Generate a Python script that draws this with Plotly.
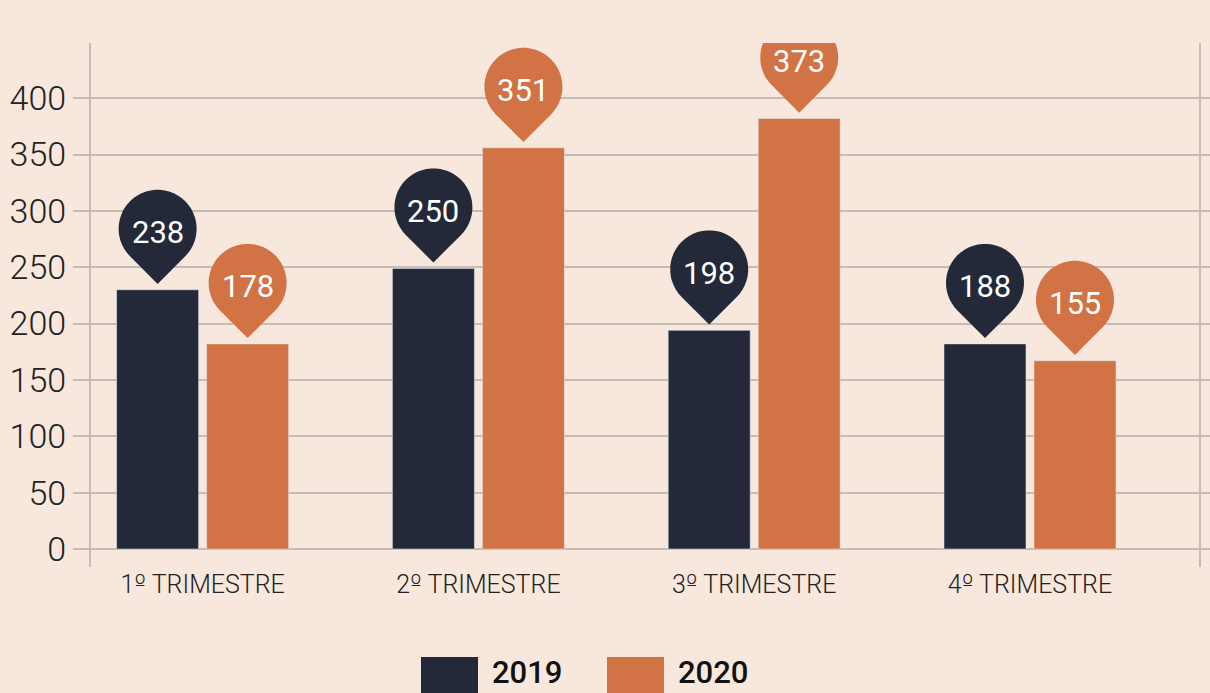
import numpy as np
import plotly.graph_objects as go

# data
quarters = ["1º TRIMESTRE", "2º TRIMESTRE", "3º TRIMESTRE", "4º TRIMESTRE"]
series_names = ["2019", "2020"]
bars_2019 = [230, 249, 194, 182]      # bar heights as drawn
bars_2020 = [182, 356, 382, 167]
labels_2019 = [238, 250, 198, 188]    # numbers printed on the pins
labels_2020 = [178, 351, 373, 155]
y_ticks = [0, 50, 100, 150, 200, 250, 300, 350, 400]

NAVY = "#232938"
ORANGE = "#d27345"
BG = "#f7e7dc"
GRID = "#c7bcb5"
TEXT = "#222222"

W, H = 1210, 693
M_L, M_R, M_T, M_B = 91, 11, 43, 126
PW, PH = W - M_L - M_R, H - M_T - M_B

BARGAP = 0.3474
GROUPGAP = 0.0889
OFFSET = (1 - BARGAP) / 4   # centre of each bar relative to the category


def pin_path(r=39, cy=61):
    """teardrop in pixels, tip at bottom, positive y is up"""
    d = r * np.sqrt(2)
    tip = cy - d
    ang = np.radians(np.linspace(-45, 225, 40))
    pts = [(0, tip)] + [(r * np.cos(a), cy + r * np.sin(a)) for a in ang]
    return "M" + " L".join(f"{x:.2f},{y:.2f}" for x, y in pts) + " Z"


def px_x(x):
    return (x - M_L) / PW


def px_y(y):
    return (H - M_B - y) / PH


fig = go.Figure()
fig.add_trace(go.Bar(x=quarters, y=bars_2019, name=series_names[0], marker_color=NAVY))
fig.add_trace(go.Bar(x=quarters, y=bars_2020, name=series_names[1], marker_color=ORANGE))

PIN = pin_path()
for k, (vals, labs, col) in enumerate([(bars_2019, labels_2019, NAVY),
                                       (bars_2020, labels_2020, ORANGE)]):
    shift = -OFFSET if k == 0 else OFFSET
    for i, (v, lab) in enumerate(zip(vals, labs)):
        fig.add_shape(type="path", path=PIN, xref="x", yref="y",
                      xsizemode="pixel", ysizemode="pixel",
                      xanchor=i + shift, yanchor=v,
                      fillcolor=col, line_width=0, layer="above")
        fig.add_annotation(x=i + shift, y=v, text=str(lab), showarrow=False,
                           yshift=57, xanchor="center", yanchor="middle",
                           font=dict(family="Roboto", size=31, color="white", weight=400))

# hand-drawn legend, large square swatches at the bottom
for name, col, sq_x, tx_x in [(series_names[0], NAVY, 421, 490),
                              (series_names[1], ORANGE, 607, 676)]:
    fig.add_shape(type="rect", xref="paper", yref="paper",
                  x0=px_x(sq_x), x1=px_x(sq_x + 57), y0=px_y(714), y1=px_y(657),
                  fillcolor=col, line_width=0)
    fig.add_annotation(xref="paper", yref="paper", x=px_x(tx_x), y=px_y(672),
                       text=name, showarrow=False, xanchor="left", yanchor="middle",
                       font=dict(family="Roboto", size=31, color="#111111", weight=500))

# ordinal sign with the underlined form
tick_text = [q.replace("º", "<span style='font-family:DejaVu Sans'>º</span>") for q in quarters]

fig.update_layout(
    width=W, height=H,
    margin=dict(l=M_L, r=M_R, t=M_T, b=M_B, pad=0),
    paper_bgcolor=BG, plot_bgcolor=BG,
    barmode="group", bargap=BARGAP, bargroupgap=GROUPGAP,
    showlegend=False,
    font=dict(family="Roboto", color=TEXT),
)
fig.update_xaxes(
    range=[-0.4047, 3.6128], showgrid=False, zeroline=False, showline=False,
    ticks="", tickfont=dict(size=25, weight=300, color=TEXT),
    tickvals=quarters, ticktext=tick_text, ticklabelstandoff=0, automargin=False,
)
fig.update_yaxes(
    range=[-16, 449], tickvals=y_ticks, showgrid=True, gridcolor=GRID, gridwidth=2,
    zeroline=False, showline=True, linecolor=GRID, linewidth=2, mirror="ticks",
    ticks="outside", ticklen=16, tickwidth=2, tickcolor=GRID,
    tickfont=dict(size=34, weight=300, color=TEXT), ticklabelstandoff=0, automargin=False,
)

fig.write_html("out.html", config={"responsive": False, "displayModeBar": False},
               post_script="document.body.style.margin='0';document.body.style.overflow='hidden';")
